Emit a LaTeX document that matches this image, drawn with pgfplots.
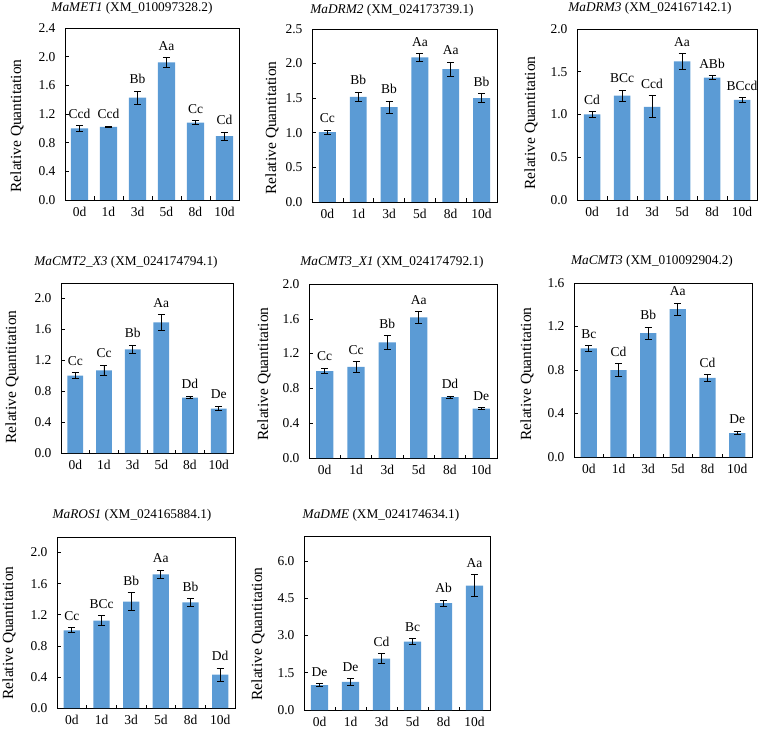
\documentclass[border=0pt]{standalone}
\usepackage{fontspec}
\setmainfont{Liberation Serif}
\usepackage{pgfplots}
\usepackage{pgfplotstable}
\pgfplotsset{compat=1.18}
\definecolor{barblue}{RGB}{91,155,213}

\pgfplotstableread{
x y e lab
0 1.00 0.037 Ccd
1 1.02 0.012 Ccd
2 1.43 0.090 Bb
3 1.92 0.065 Aa
4 1.08 0.025 Cc
5 0.89 0.055 Cd
}\tA
\pgfplotstableread{
x y e lab
0 1.01 0.030 Cc
1 1.52 0.068 Bb
2 1.37 0.090 Bb
3 2.09 0.052 Aa
4 1.92 0.100 Aa
5 1.50 0.065 Bb
}\tB
\pgfplotstableread{
x y e lab
0 1.00 0.030 Cd
1 1.22 0.065 BCc
2 1.09 0.127 Ccd
3 1.62 0.094 Aa
4 1.43 0.023 ABb
5 1.17 0.025 BCcd
}\tC
\pgfplotstableread{
x y e lab
0 1.00 0.040 Cc
1 1.07 0.065 Cc
2 1.34 0.054 Bb
3 1.69 0.100 Aa
4 0.717 0.017 Dd
5 0.575 0.030 De
}\tD
\pgfplotstableread{
x y e lab
0 1.00 0.033 Cc
1 1.046 0.060 Cc
2 1.33 0.077 Bb
3 1.617 0.067 Aa
4 0.70 0.012 Dd
5 0.567 0.013 De
}\tE
\pgfplotstableread{
x y e lab
0 1.00 0.025 Bc
1 0.80 0.060 Cd
2 1.138 0.055 Bb
3 1.36 0.055 Aa
4 0.727 0.032 Cd
5 0.22 0.017 De
}\tF
\pgfplotstableread{
x y e lab
0 1.00 0.032 Cc
1 1.124 0.066 BCc
2 1.37 0.115 Bb
3 1.718 0.055 Aa
4 1.36 0.050 Bb
5 0.43 0.083 Dd
}\tG
\pgfplotstableread{
x y e lab
0 1.00 0.060 De
1 1.13 0.130 De
2 2.07 0.200 Cd
3 2.75 0.115 Bc
4 4.30 0.115 Ab
5 5.00 0.440 Aa
}\tH

\pgfplotsset{
  panel/.style={
    scale only axis, anchor=south west,
    xmin=-0.5, xmax=5.5, ymin=0,
    xtick={0.5,1.5,2.5,3.5,4.5}, xticklabels={},
    extra x ticks={0,1,2,3,4,5},
    extra x tick labels={0d,1d,3d,5d,8d,10d},
    extra x tick style={major tick length=0pt},
    xtick pos=bottom, ytick pos=left,
    tick align=inside,
    major tick length=3.5pt,
    tick style={black, line width=0.6pt},
    axis line style={black, line width=0.8pt},
    /pgf/number format/assume math mode=true,
    yticklabel style={font=\fontsize{13.5}{15}\selectfont, xshift=-6pt,
      /pgf/number format/.cd, fixed, fixed zerofill, precision=1},
    xticklabel style={font=\fontsize{13.5}{15}\selectfont, yshift=-4pt},
  },
  barplot/.style={ybar, bar width=0.55, fill=barblue, draw=none,
    /pgfplots/error bars/y dir=both, /pgfplots/error bars/y explicit,
    /pgfplots/error bars/error bar style={black, line width=0.9pt},
    /pgfplots/error bars/error mark options={rotate=90, black, mark size=3.5pt, line width=0.9pt}},
  labplot/.style={draw=none, mark=none, nodes near coords,
    point meta=explicit symbolic,
    nodes near coords style={font=\fontsize{13.5}{15}\selectfont, inner sep=0pt, anchor=south, yshift=7pt}},
}
\newcommand\ttl[1]{\fontsize{13.3}{15}\selectfont #1}
\tikzset{ylab/.style={rotate=90, font=\fontsize{15.5}{17}\selectfont}}

\begin{document}
\begin{tikzpicture}
\useasboundingbox (0pt,0pt) rectangle (758pt,732pt);

% Panel 1
\begin{axis}[panel, at={(65pt,532pt)}, width=174pt, height=172pt, ymax=2.4, ytick={0,0.4,...,2.41}]
\addplot[barplot, bar width=0.6] table[x=x, y=y, y error=e]{\tA};
\addplot[labplot] table[x=x, y expr=\thisrow{y}+\thisrow{e}, meta=lab]{\tA};
\end{axis}
% Panel 2
\begin{axis}[panel, at={(312pt,530pt)}, width=185pt, height=173pt, ymax=2.5, ytick={0,0.5,...,2.51}]
\addplot[barplot] table[x=x, y=y, y error=e]{\tB};
\addplot[labplot] table[x=x, y expr=\thisrow{y}+\thisrow{e}, meta=lab]{\tB};
\end{axis}
% Panel 3
\begin{axis}[panel, at={(577pt,532pt)}, width=180pt, height=171pt, ymax=2.0, ytick={0,0.5,...,2.01}]
\addplot[barplot] table[x=x, y=y, y error=e]{\tC};
\addplot[labplot] table[x=x, y expr=\thisrow{y}+\thisrow{e}, meta=lab]{\tC};
\end{axis}
% Panel 4
\begin{axis}[panel, at={(61pt,279pt)}, width=172pt, height=170pt, ymax=2.2, ytick={0,0.4,...,2.01}]
\addplot[barplot] table[x=x, y=y, y error=e]{\tD};
\addplot[labplot] table[x=x, y expr=\thisrow{y}+\thisrow{e}, meta=lab]{\tD};
\end{axis}
% Panel 5
\begin{axis}[panel, at={(309pt,274pt)}, width=188pt, height=174pt, ymax=2.0, ytick={0,0.4,...,2.01}]
\addplot[barplot] table[x=x, y=y, y error=e]{\tE};
\addplot[labplot] table[x=x, y expr=\thisrow{y}+\thisrow{e}, meta=lab]{\tE};
\end{axis}
% Panel 6
\begin{axis}[panel, at={(574pt,275pt)}, width=178pt, height=174pt, ymax=1.6, ytick={0,0.4,...,1.61}]
\addplot[barplot] table[x=x, y=y, y error=e]{\tF};
\addplot[labplot] table[x=x, y expr=\thisrow{y}+\thisrow{e}, meta=lab]{\tF};
\end{axis}
% Panel 7
\begin{axis}[panel, at={(57pt,24pt)}, width=178pt, height=171pt, ymax=2.2, ytick={0,0.4,...,2.01}]
\addplot[barplot] table[x=x, y=y, y error=e]{\tG};
\addplot[labplot] table[x=x, y expr=\thisrow{y}+\thisrow{e}, meta=lab]{\tG};
\end{axis}
% Panel 8
\begin{axis}[panel, at={(304pt,22pt)}, width=186pt, height=174pt, ymax=7.0, ytick={0,1.5,...,6.01}]
\addplot[barplot] table[x=x, y=y, y error=e]{\tH};
\addplot[labplot] table[x=x, y expr=\thisrow{y}+\thisrow{e}, meta=lab]{\tH};
\end{axis}

% Titles
\node at (132pt,724pt) {\ttl{\textit{MaMET1} (XM\_010097328.2)}};
\node at (392pt,722pt) {\ttl{\textit{MaDRM2} (XM\_024173739.1)}};
\node at (650pt,724pt) {\ttl{\textit{MaDRM3} (XM\_024167142.1)}};
\node at (126pt,470pt) {\ttl{\textit{MaCMT2\_X3} (XM\_024174794.1)}};
\node at (392pt,470pt) {\ttl{\textit{MaCMT3\_X1} (XM\_024174792.1)}};
\node at (652pt,471pt) {\ttl{\textit{MaCMT3} (XM\_010092904.2)}};
\node at (132pt,217pt) {\ttl{\textit{MaROS1} (XM\_024165884.1)}};
\node at (381pt,217pt) {\ttl{\textit{MaDME} (XM\_024174634.1)}};

% Y labels
\node[ylab] at (17pt,606pt) {Relative Quantitation};
\node[ylab] at (272pt,604pt) {Relative Quantitation};
\node[ylab] at (531pt,609pt) {Relative Quantitation};
\node[ylab] at (12pt,355pt) {Relative Quantitation};
\node[ylab] at (264pt,358pt) {Relative Quantitation};
\node[ylab] at (527pt,358pt) {Relative Quantitation};
\node[ylab] at (9pt,99pt) {Relative Quantitation};
\node[ylab] at (258pt,98pt) {Relative Quantitation};
\end{tikzpicture}
\end{document}
